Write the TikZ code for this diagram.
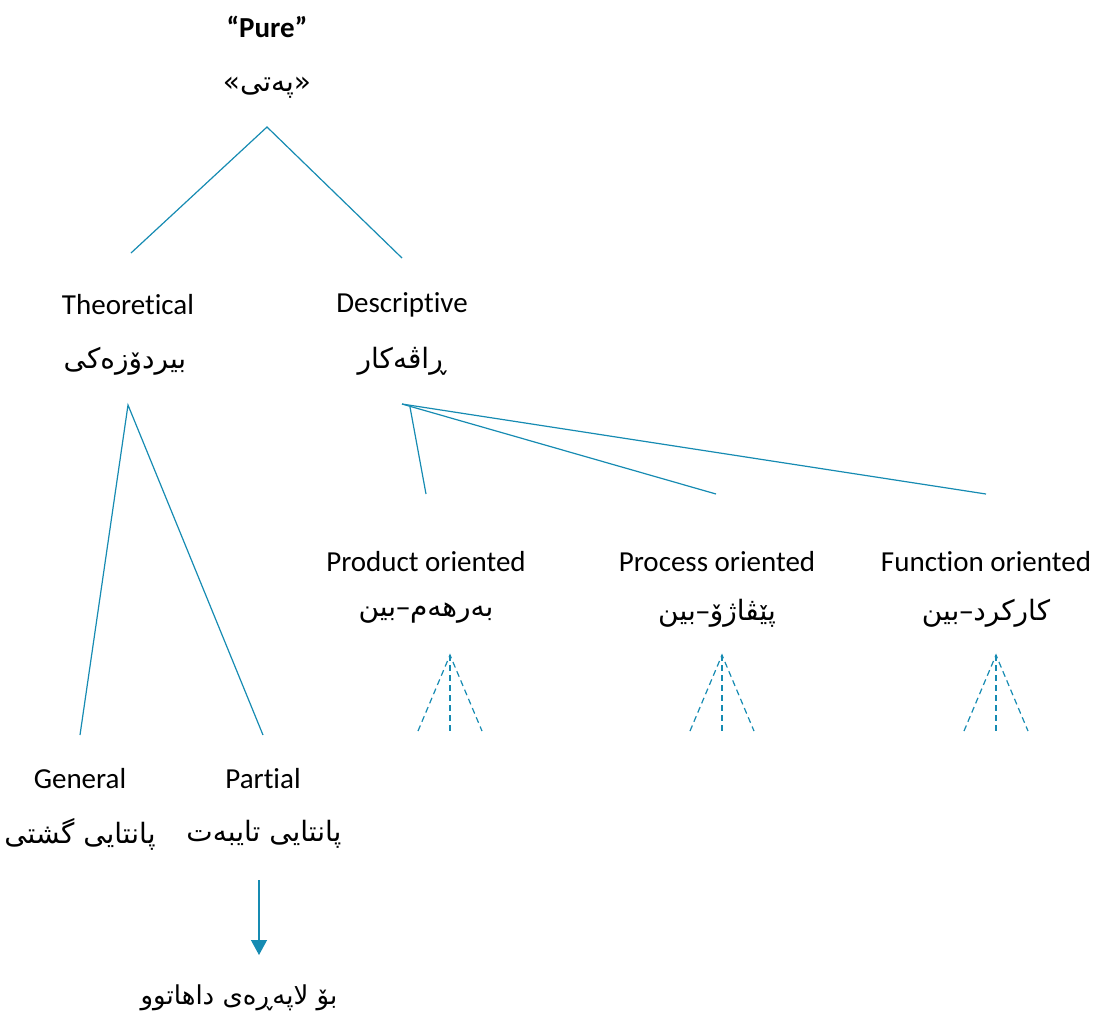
\documentclass[tikz,border=0pt]{standalone}
\usepackage{fontspec}
\setmainfont{Carlito}[Ligatures=NoCommon, Contextuals=NoAlternate]
\newfontfamily\arabicfont[Script=Arabic]{DejaVu Sans}
\TeXXeTstate=1
\usetikzlibrary{arrows.meta}
\definecolor{treeblue}{RGB}{22,139,178}
\newcommand{\kur}[1]{\beginR #1\endR}

\begin{document}
\begin{tikzpicture}[x=0.5pt,y=-0.5pt,
  en/.style={font=\fontsize{14.5}{17}\selectfont, inner sep=0pt},
  ku/.style={font=\fontsize{14}{17}\arabicfont, inner sep=0pt},
  branch/.style={draw=treeblue, line width=0.6pt},
  hint/.style={branch, dash pattern=on 3pt off 2pt}]
\useasboundingbox (0,0) rectangle (1101,1014);

\node[en, font=\fontsize{14.5}{17}\bfseries] (pure) at (267,27) {“Pure”};
\node[ku] (pureK) at (267,88) {\kur{«پەتی»}};
\node[en] (theo) at (128,305) {Theoretical};
\node[ku] (theoK) at (125,361) {\kur{بیردۆزەکی}};
\node[en] (desc) at (402,305) {Descriptive};
\node[ku] (descK) at (402,361) {\kur{ڕاڤەکار}};
\node[en] (prod) at (426,562) {Product oriented};
\node[ku] (prodK) at (426,613) {\kur{بەرهەم–بین}};
\node[en] (proc) at (717,562) {Process oriented};
\node[ku] (procK) at (717,613) {\kur{پێڤاژۆ–بین}};
\node[en] (func) at (986,562) {Function oriented};
\node[ku] (funcK) at (986,613) {\kur{کارکرد–بین}};
\node[en] (gen) at (80,779) {General};
\node[ku] (genK) at (80,834) {\kur{پانتایی گشتی}};
\node[en] (part) at (263,779) {Partial};
\node[ku] (partK) at (264,834) {\kur{پانتایی تایبەت}};
\node[ku, font=\fontsize{13}{15}\arabicfont] (next) at (239,998) {\kur{بۆ لاپەڕەی داهاتوو}};

\coordinate (pureTop) at (267,127);
\coordinate (theoIn) at (131,253);
\coordinate (descIn) at (402,258);
\coordinate (theoTop) at (128,405);
\coordinate (genIn) at (80,735);
\coordinate (partIn) at (263,735);
\coordinate (descTop) at (402,404);
\coordinate (descTopB) at (410,407);
\coordinate (prodIn) at (426,494);
\coordinate (procIn) at (716,494);
\coordinate (funcIn) at (986,494);
\coordinate (partOut) at (259,880);
\coordinate (nextIn) at (259,955);

\draw[branch] (theoIn) -- (pureTop) -- (descIn);
\draw[branch] (genIn) -- (theoTop) -- (partIn);
\draw[branch] (descTopB) -- (prodIn);
\draw[branch] (descTop) -- (procIn);
\draw[branch] (descTop) -- (funcIn);

\foreach \name/\cx in {prodK/450, procK/722, funcK/996}{
  \coordinate (\name-apex) at (\cx,655);
  \draw[hint] (\cx-32,731) -- (\name-apex) -- (\cx+32,731);
  \draw[hint] (\name-apex) -- (\cx,731);
}

\draw[branch, -{Triangle[length=7.5pt, width=8pt]}] (partOut) -- (nextIn);
\end{tikzpicture}
\end{document}
